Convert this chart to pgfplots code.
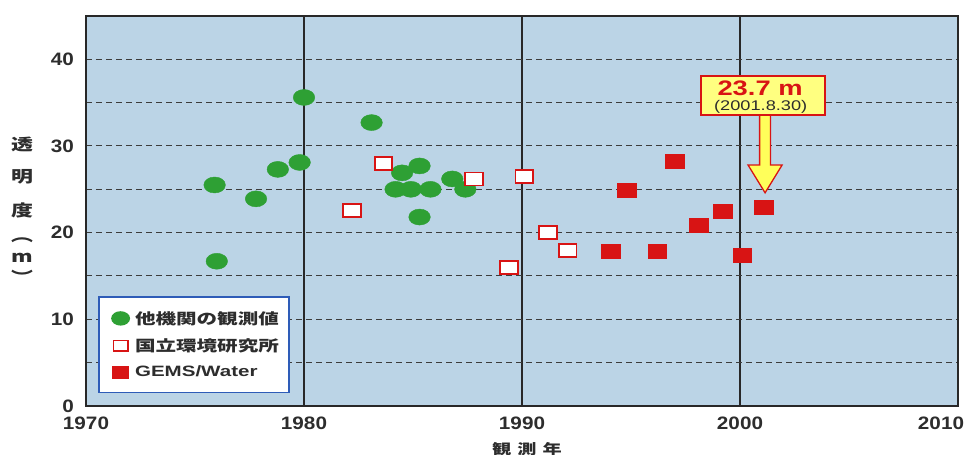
\documentclass[border=0pt]{standalone}
\usepackage{fontspec}
\setmainfont{Liberation Sans}
\newfontfamily\cjk{Noto Sans CJK JP}
\usepackage{graphicx}
\usepackage{pgfplots}
\pgfplotsset{compat=1.18}

\definecolor{bgblue}{RGB}{187,212,230}
\definecolor{mgreen}{RGB}{46,160,52}
\definecolor{mred}{RGB}{216,20,20}
\definecolor{lborder}{RGB}{46,92,184}
\definecolor{gridc}{RGB}{60,60,60}
\definecolor{axc}{RGB}{40,40,40}
\definecolor{txt}{RGB}{45,45,45}
\definecolor{boxy}{RGB}{255,255,128}
\definecolor{arry}{RGB}{255,255,90}
\newcommand\hsc[2]{\scalebox{#1}[1]{#2}}
\newcommand\tkl[1]{\hsc{1.15}{#1}}
\newcommand\lgt[1]{\hsc{1.37}{#1}}

\begin{document}
\begin{tikzpicture}
\begin{axis}[
 scale only axis, width=872pt, height=390pt,
 xmin=1970, xmax=2010, ymin=0, ymax=45,
 xtick={1970,1980,1990,2000,2010},
 xticklabels={\tkl{1970},\tkl{1980},\tkl{1990},\tkl{2000},\hspace*{-34pt}\tkl{2010}},
 ytick={0,5,...,40},
 yticklabels={\tkl{0},,\tkl{10},,\tkl{20},,\tkl{30},,\tkl{40}},
 major tick length=0pt,
 xmajorgrids, ymajorgrids,
 x grid style={axc, line width=1.6pt},
 y grid style={gridc, line width=1.0pt, dash pattern=on 6pt off 4pt},
 axis line style={axc, line width=2.5pt},
 axis background/.style={fill=bgblue},
 tick label style={font=\fontsize{18}{18}\selectfont\bfseries, text=txt, inner sep=1pt},
 yticklabel style={xshift=-11pt},
 xticklabel style={yshift=-10pt},
 legend style={at={(0.014,0.033)}, anchor=south west, draw=lborder, line width=1.6pt,
   fill=white, font=\bfseries\fontsize{15}{15}\selectfont, text=txt,
   row sep=9pt, inner xsep=8pt, inner ysep=12pt},
 legend cell align=left,
 legend image code/.code={\path[draw=none,fill=none] (0pt,0pt) -- (26pt,0pt);\draw[#1,scale=0.8] plot coordinates {(17pt,0pt)};},
]
\addplot[only marks, mark=*, mark size=8pt, mark options={xscale=1.35, fill=mgreen, draw=mgreen}]
 coordinates {(1975.9,25.5)(1976.0,16.7)(1977.8,23.9)(1978.8,27.3)(1979.8,28.1)(1980.0,35.6)
 (1983.1,32.7)(1984.5,26.9)(1985.3,27.7)(1984.2,25.0)(1984.9,25.0)(1985.8,25.0)(1985.3,21.8)
 (1986.8,26.2)(1987.4,25.0)};
\addlegendentry{\lgt{\cjk 他機関の観測値}}
\addplot[only marks, mark=square*, mark size=6.5pt, mark options={xscale=1.35, fill=white, draw=mred, line width=1.8pt}]
 coordinates {(1982.2,22.6)(1983.65,28.0)(1987.8,26.2)(1989.4,16.0)(1990.1,26.5)(1991.2,20.0)(1992.1,17.9)};
\addlegendentry{\lgt{\cjk 国立環境研究所}}
\addplot[only marks, mark=square*, mark size=7pt, mark options={xscale=1.35, fill=mred, draw=mred}]
 coordinates {(1994.05,17.9)(1994.8,24.9)(1996.2,17.9)(1997.0,28.3)(1998.1,20.9)(1999.2,22.5)(2000.1,17.4)(2001.1,22.9)};
\addlegendentry{\lgt{GEMS/Water}}

\draw[draw=mred, fill=arry, line width=1.3pt] (axis cs:2000.90,33.8) -- (axis cs:2000.90,27.8)
 -- (axis cs:2000.37,27.8) -- (axis cs:2001.15,24.6) -- (axis cs:2001.93,27.8)
 -- (axis cs:2001.40,27.8) -- (axis cs:2001.40,33.8);
\node[draw=mred, fill=boxy, line width=1.5pt, minimum width=124pt, minimum height=39pt,
 inner sep=0pt] at (axis cs:2001.05,35.85) {};
\node[inner sep=0pt, text=mred, font=\bfseries\fontsize{21}{21}\selectfont]
 at (axis cs:2000.92,36.7) {\hsc{1.3}{23.7 m}};
\node[inner sep=0pt, text=txt, font=\fontsize{14}{14}\selectfont]
 at (axis cs:2000.95,34.5) {\hsc{1.3}{(2001.8.30)}};
\end{axis}
\foreach \c/\dy in {透/262, 明/229, 度/196, ︵/166, m/148, ︶/129}
 \node[font=\cjk\bfseries\fontsize{16}{16}\selectfont, text=txt, inner sep=0pt]
  at ([xshift=-64pt,yshift=\dy pt]current axis.south west) {\lgt{\c}};
\node[font=\cjk\bfseries\fontsize{14}{14}\selectfont, text=txt, inner sep=0pt]
 at ([xshift=441pt,yshift=-43pt]current axis.south west) {\lgt{観}\hspace{6pt}\lgt{測}\hspace{6pt}\lgt{年}};
\pgfresetboundingbox
\path ([xshift=-86pt,yshift=-49pt]current axis.south west) rectangle ([xshift=7pt,yshift=16pt]current axis.north east);
\end{tikzpicture}
\end{document}
